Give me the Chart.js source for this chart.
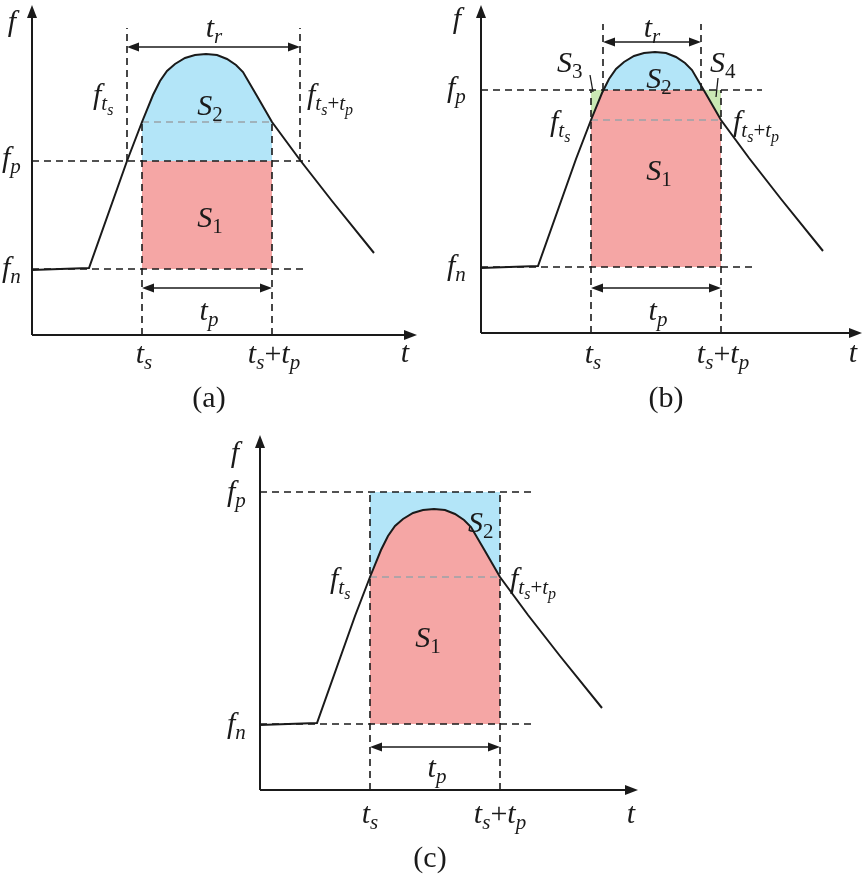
<!DOCTYPE html>
<html>
<head>
<meta charset="utf-8">
<script src="https://cdn.jsdelivr.net/npm/chart.js@4.4.0/dist/chart.umd.min.js"></script>
<style>
  html, body { margin: 0; padding: 0; background: #fff; }
  #wrap { position: relative; width: 865px; height: 882px; }
  canvas { position: absolute; }
</style>
</head>
<body>
<div id="wrap">
  <canvas id="chartA" width="430" height="420" style="left:0;top:0"></canvas>
  <canvas id="chartB" width="425" height="420" style="left:440px;top:0"></canvas>
  <canvas id="chartC" width="440" height="452" style="left:210px;top:430px"></canvas>
</div>
<script>
// frequency response curve, same shape in all three panels (t, f in arbitrary units)
const curveT = [0, 28, 57, 95, 110, 121, 128, 135, 143, 153, 163, 174, 185, 195, 204, 211, 225, 240, 268, 300, 342];
const curveF = [65, 66, 67, 174, 213, 240, 254, 264, 271, 277, 280, 281, 280, 276, 270, 263, 239, 213, 175, 134, 82];

const panelNames = ['(a)', '(b)', '(c)'];
const fnLevel = [66, 66, 66];
const fpLevel = [174, 243, 298];
const tsTime = [110, 110, 110];
const tpWidth = [130, 130, 130];
const trStart = [95, 122, null];
const trEnd = [268, 220, null];

const INK = '#1a1a1a';
const BLUE = 'rgb(179,229,248)';
const RED = 'rgb(245,166,165)';
const GREEN = 'rgb(202,232,180)';
const GRAY = '#9aa3a8';
const FONT = '"Liberation Serif", Tinos, "Times New Roman", Times, serif';
const SIZES = [30, 21, 16];
const DROPS = [0, 6, 11];

function fAt(t) {
  return curveF[curveT.indexOf(t)];
}

// layout of each panel (pixels / guide extents), labels as rich text segments
const layouts = [
  {
    canvas: 'chartA', pad: {left: 32, right: 13, top: 5, bottom: 85}, xMax: 385, yMax: 330,
    fpEnd: 278, fnEnd: 275, trTop: 307, trArrowY: 288, tpArrowY: 47,
    labels: [
      {segs: [['f', 0]], x: -20, y: 304, align: 'center'},
      {segs: [['t', 0]], x: 373, y: -27, align: 'center'},
      {segs: [['f', 0], ['p', 1]], x: -30, y: fpLevel[0] - 6},
      {segs: [['f', 0], ['n', 1]], x: -30, y: fnLevel[0] - 8},
      {segs: [['f', 0], ['t', 1], ['s', 2]], x: 61, y: 231},
      {segs: [['f', 0], ['t', 1], ['s', 2], ['+', 1], ['t', 1], ['p', 2]], x: 275, y: 231},
      {segs: [['S', 0], ['2', 1]], x: 178, y: 220, align: 'center'},
      {segs: [['S', 0], ['1', 1]], x: 178, y: 108, align: 'center'},
      {segs: [['t', 0], ['r', 1]], x: 182, y: 298, align: 'center'},
      {segs: [['t', 0], ['p', 1]], x: 177, y: 15, align: 'center'},
      {segs: [['t', 0], ['s', 1]], x: 112, y: -28, align: 'center'},
      {segs: [['t', 0], ['s', 1], ['+', 0], ['t', 0], ['p', 1]], x: 242, y: -28, align: 'center'},
      {segs: [[panelNames[0], 0, 'up']], x: 177, y: -72, align: 'center'}
    ],
    leaders: []
  },
  {
    canvas: 'chartB', pad: {left: 41, right: 3, top: 5, bottom: 87}, xMax: 381, yMax: 328,
    fpEnd: 281, fnEnd: 274, trTop: 309, trArrowY: 291, tpArrowY: 45,
    labels: [
      {segs: [['f', 0]], x: -24, y: 305, align: 'center'},
      {segs: [['t', 0]], x: 372, y: -29, align: 'center'},
      {segs: [['f', 0], ['p', 1]], x: -34, y: fpLevel[1] - 7},
      {segs: [['f', 0], ['n', 1]], x: -34, y: fnLevel[1] - 8},
      {segs: [['f', 0], ['t', 1], ['s', 2]], x: 69, y: 202},
      {segs: [['f', 0], ['t', 1], ['s', 2], ['+', 1], ['t', 1], ['p', 2]], x: 252, y: 202},
      {segs: [['S', 0], ['2', 1]], x: 178, y: 245, align: 'center'},
      {segs: [['S', 0], ['1', 1]], x: 178, y: 153, align: 'center'},
      {segs: [['S', 0], ['3', 1]], x: 76, y: 261},
      {segs: [['S', 0], ['4', 1]], x: 229, y: 261},
      {segs: [['t', 0], ['r', 1]], x: 171, y: 296, align: 'center'},
      {segs: [['t', 0], ['p', 1]], x: 177, y: 13, align: 'center'},
      {segs: [['t', 0], ['s', 1]], x: 112, y: -30, align: 'center'},
      {segs: [['t', 0], ['s', 1], ['+', 0], ['t', 0], ['p', 1]], x: 242, y: -30, align: 'center'},
      {segs: [[panelNames[1], 0, 'up']], x: 185, y: -74, align: 'center'}
    ],
    leaders: [[109, 258, 112, 241], [237, 255, 235, 236]]
  },
  {
    canvas: 'chartC', pad: {left: 50, right: 12, top: 5, bottom: 92}, xMax: 378, yMax: 355,
    fpEnd: 275, fnEnd: 273, trTop: null, trArrowY: null, tpArrowY: 43,
    labels: [
      {segs: [['f', 0]], x: -25, y: 328, align: 'center'},
      {segs: [['t', 0]], x: 371, y: -33, align: 'center'},
      {segs: [['f', 0], ['p', 1]], x: -33, y: fpLevel[2] - 9},
      {segs: [['f', 0], ['n', 1]], x: -33, y: fnLevel[2] - 9},
      {segs: [['f', 0], ['t', 1], ['s', 2]], x: 70, y: 202},
      {segs: [['f', 0], ['t', 1], ['s', 2], ['+', 1], ['t', 1], ['p', 2]], x: 250, y: 202},
      {segs: [['S', 0], ['2', 1]], x: 208, y: 258},
      {segs: [['S', 0], ['1', 1]], x: 168, y: 143, align: 'center'},
      {segs: [['t', 0], ['p', 1]], x: 177, y: 13, align: 'center'},
      {segs: [['t', 0], ['s', 1]], x: 110, y: -33, align: 'center'},
      {segs: [['t', 0], ['s', 1], ['+', 0], ['t', 0], ['p', 1]], x: 240, y: -33, align: 'center'},
      {segs: [[panelNames[2], 0, 'up']], x: 170, y: -77, align: 'center'}
    ],
    leaders: []
  }
];

function drawRich(ctx, segs, px, py, align) {
  let w = 0;
  const parts = segs.map(function (s) {
    const up = s[2] === 'up' || /^[0-9+()]+$/.test(s[0]);
    const font = (up ? '' : 'italic ') + SIZES[s[1]] + 'px ' + FONT;
    ctx.font = font;
    const m = ctx.measureText(s[0]).width;
    w += m;
    return {t: s[0], font: font, m: m, dy: DROPS[s[1]]};
  });
  let cx = align === 'center' ? px - w / 2 : px;
  ctx.textAlign = 'left';
  ctx.textBaseline = 'alphabetic';
  parts.forEach(function (p) {
    ctx.font = p.font;
    ctx.fillText(p.t, cx, py + p.dy);
    cx += p.m;
  });
}

function head(ctx, x0, y0, x1, y1, len, half) {
  const a = Math.atan2(y1 - y0, x1 - x0);
  const c = Math.cos(a), s = Math.sin(a);
  ctx.beginPath();
  ctx.moveTo(x1, y1);
  ctx.lineTo(x1 - len * c + half * s, y1 - len * s - half * c);
  ctx.lineTo(x1 - len * c - half * s, y1 - len * s + half * c);
  ctx.closePath();
  ctx.fill();
}

function seg(ctx, x0, y0, x1, y1) {
  ctx.beginPath();
  ctx.moveTo(x0, y0);
  ctx.lineTo(x1, y1);
  ctx.stroke();
}

function decorPlugin(i, L) {
  return {
    id: 'decor' + i,
    afterDatasetsDraw: function (chart) {
      const ctx = chart.ctx, xs = chart.scales.x, ys = chart.scales.y;
      const X = function (v) { return xs.getPixelForValue(v); };
      const Y = function (v) { return ys.getPixelForValue(v); };
      const ts = tsTime[i], te = tsTime[i] + tpWidth[i];
      ctx.save();
      ctx.strokeStyle = INK;
      ctx.fillStyle = INK;
      ctx.setLineDash([]);

      // axes with arrow heads
      ctx.lineWidth = 2;
      seg(ctx, X(0), Y(0), X(xs.max) - 6, Y(0));
      head(ctx, X(0), Y(0), X(xs.max), Y(0), 13, 5);
      seg(ctx, X(0), Y(0), X(0), Y(ys.max) + 6);
      head(ctx, X(0), Y(0), X(0), Y(ys.max), 13, 5);

      // t_p double arrow
      ctx.lineWidth = 1.6;
      seg(ctx, X(ts) + 4, Y(L.tpArrowY), X(te) - 4, Y(L.tpArrowY));
      head(ctx, X(te), Y(L.tpArrowY), X(ts), Y(L.tpArrowY), 12, 4.5);
      head(ctx, X(ts), Y(L.tpArrowY), X(te), Y(L.tpArrowY), 12, 4.5);

      // t_r double arrow
      if (trStart[i] !== null) {
        seg(ctx, X(trStart[i]) + 4, Y(L.trArrowY), X(trEnd[i]) - 4, Y(L.trArrowY));
        head(ctx, X(trEnd[i]), Y(L.trArrowY), X(trStart[i]), Y(L.trArrowY), 12, 4.5);
        head(ctx, X(trStart[i]), Y(L.trArrowY), X(trEnd[i]), Y(L.trArrowY), 12, 4.5);
      }

      // leader lines for S3 / S4
      ctx.lineWidth = 1.3;
      L.leaders.forEach(function (d) {
        seg(ctx, X(d[0]), Y(d[1]), X(d[2]), Y(d[3]));
      });

      L.labels.forEach(function (lb) {
        drawRich(ctx, lb.segs, X(lb.x), Y(lb.y), lb.align);
      });
      ctx.restore();
    }
  };
}

function pts(ts, fs) {
  return ts.map(function (t, k) { return {x: t, y: fs[k]}; });
}

function dashed(data, color, order) {
  return {
    data: data, borderColor: color, borderWidth: 1.6, borderDash: [7, 5],
    pointRadius: 0, fill: false, tension: 0, order: order, clip: false
  };
}

function buildPanel(i) {
  const L = layouts[i];
  const ts = tsTime[i], te = tsTime[i] + tpWidth[i];
  const fp = fpLevel[i], fn = fnLevel[i], fts = fAt(ts);

  const capT = curveT.filter(function (t) { return t >= ts && t <= te; });
  const capF = capT.map(fAt);
  const cap = pts(capT, capF);
  const rect = [{x: ts, y: fp}, {x: te, y: fp}];

  const datasets = [];
  // curve on top
  datasets.push({
    label: 'f(t)', data: pts(curveT, curveF), borderColor: INK, borderWidth: 2,
    pointRadius: 0, fill: false, tension: 0, order: 1, clip: false
  });

  // guides
  datasets.push(dashed([{x: 0, y: fp}, {x: L.fpEnd, y: fp}], INK, 2));
  datasets.push(dashed([{x: 0, y: fn}, {x: L.fnEnd, y: fn}], INK, 2));
  datasets.push(dashed([{x: ts, y: fts}, {x: te, y: fts}], GRAY, 3));
  const vTop = Math.max(fp, fts);
  datasets.push(dashed([{x: ts, y: 0}, {x: ts, y: vTop}], INK, 2));
  datasets.push(dashed([{x: te, y: 0}, {x: te, y: vTop}], INK, 2));
  if (trStart[i] !== null) {
    datasets.push(dashed([{x: trStart[i], y: fp}, {x: trStart[i], y: L.trTop}], INK, 2));
    datasets.push(dashed([{x: trEnd[i], y: fp}, {x: trEnd[i], y: L.trTop}], INK, 2));
  }

  // areas
  const area = function (data, fill, order) {
    return {data: data, borderWidth: 0, borderColor: 'rgba(0,0,0,0)', pointRadius: 0,
            tension: 0, fill: fill, order: order, clip: false};
  };
  if (i === 0) {
    datasets.push(area(rect, {target: {value: fn}, above: RED, below: RED}, 6));
    datasets.push(area(cap, {target: {value: fp}, above: BLUE, below: BLUE}, 5));
  } else if (i === 1) {
    datasets.push(area(rect, {target: {value: fn}, above: RED, below: RED}, 6));
    datasets.push(area(cap, {target: {value: fp}, above: BLUE, below: GREEN}, 5));
  } else {
    datasets.push(area(cap, {target: {value: fn}, above: RED, below: RED}, 6));
    datasets.push(area(cap, {target: {value: fp}, above: BLUE, below: BLUE}, 5));
  }

  new Chart(document.getElementById(L.canvas), {
    type: 'line',
    data: {datasets: datasets},
    options: {
      responsive: false,
      animation: false,
      events: [],
      layout: {padding: L.pad},
      scales: {
        x: {type: 'linear', min: 0, max: L.xMax, display: false},
        y: {type: 'linear', min: 0, max: L.yMax, display: false}
      },
      plugins: {legend: {display: false}, tooltip: {enabled: false}}
    },
    plugins: [decorPlugin(i, L)]
  });
}

buildPanel(0);
buildPanel(1);
buildPanel(2);
</script>
</body>
</html>
